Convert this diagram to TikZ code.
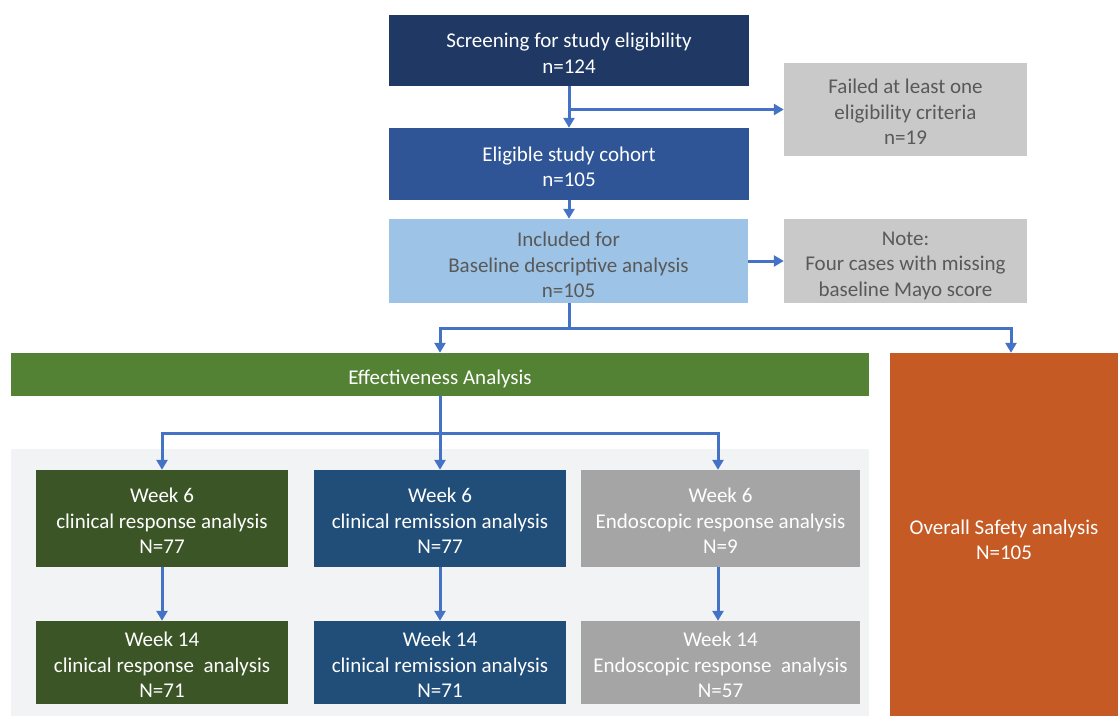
\documentclass[tikz,border=0pt]{standalone}
\usepackage{fontspec}
\setmainfont{Carlito}
\usetikzlibrary{arrows.meta}
\definecolor{cScreen}{HTML}{1F3864}
\definecolor{cElig}{HTML}{2F5597}
\definecolor{cIncl}{HTML}{9DC3E6}
\definecolor{cGrayBox}{HTML}{C9C9C9}
\definecolor{cGrayText}{HTML}{595959}
\definecolor{cEff}{HTML}{548235}
\definecolor{cSafe}{HTML}{C55A24}
\definecolor{cWGreen}{HTML}{3B5526}
\definecolor{cWBlue}{HTML}{214E78}
\definecolor{cWGray}{HTML}{A5A5A5}
\definecolor{cPanel}{HTML}{F2F3F5}
\definecolor{cArrow}{HTML}{4472C4}
\tikzset{
  box/.style={rectangle, inner sep=0pt, align=center, text depth=0pt, font=\fontsize{21}{25.5}\selectfont},
  darkbox/.style={box, text=white},
  lightbox/.style={box, text=cGrayText},
  lines1/.style={text height=19pt},
  lines2/.style={text height=45pt},
  lines3/.style={text height=70.5pt},
  arr/.style={draw=cArrow, line width=3pt, -{Triangle[length=10pt,width=11pt]}},
  conn/.style={draw=cArrow, line width=3pt},
}
\begin{document}
\begin{tikzpicture}[x=1pt,y=-1pt]
\useasboundingbox (0,0) rectangle (1118,716);
% background panel
\fill[cPanel] (11,449) rectangle (869,716);
% top chain
\node[darkbox, lines2, fill=cScreen, minimum width=360pt, minimum height=71pt] (screen) at (569,50.5) {Screening for study eligibility\\n=124};
\node[lightbox, lines3, fill=cGrayBox, minimum width=243pt, minimum height=93pt] (failed) at (905.5,109.5) {Failed at least one\\eligibility criteria\\n=19};
\node[darkbox, lines2, fill=cElig, minimum width=360pt, minimum height=72pt] (elig) at (569,164) {Eligible study cohort\\n=105};
\node[lightbox, lines3, text height=73pt, fill=cIncl, minimum width=359pt, minimum height=84pt] (incl) at (568.5,261) {Included for\\Baseline descriptive analysis\\n=105};
\node[lightbox, lines3, fill=cGrayBox, minimum width=243pt, minimum height=84pt] (note) at (905.5,261) {Note:\\Four cases with missing\\baseline Mayo score};
% effectiveness and safety
\node[darkbox, lines1, fill=cEff, minimum width=858pt, minimum height=43pt] (eff) at (440,374.5) {Effectiveness Analysis};
\node[darkbox, lines2, text height=50pt, fill=cSafe, minimum width=228pt, minimum height=363pt] (safe) at (1004,534.5) {Overall Safety analysis\\N=105};
% week 6
\node[darkbox, lines3, fill=cWGreen, minimum width=252pt, minimum height=97pt] (w6a) at (162,518.5) {Week 6\\clinical response analysis\\N=77};
\node[darkbox, lines3, fill=cWBlue, minimum width=252pt, minimum height=97pt] (w6b) at (440,518.5) {Week 6\\clinical remission analysis\\N=77};
\node[darkbox, lines3, fill=cWGray, minimum width=279pt, minimum height=97pt] (w6c) at (720.5,518.5) {Week 6\\Endoscopic response analysis\\N=9};
% week 14
\node[darkbox, lines3, fill=cWGreen, minimum width=252pt, minimum height=83pt] (w14a) at (162,662.5) {Week 14\\clinical response~ analysis\\N=71};
\node[darkbox, lines3, fill=cWBlue, minimum width=252pt, minimum height=83pt] (w14b) at (440,662.5) {Week 14\\clinical remission analysis\\N=71};
\node[darkbox, lines3, fill=cWGray, minimum width=279pt, minimum height=83pt] (w14c) at (720.5,662.5) {Week 14\\Endoscopic response~ analysis\\N=57};
% connectors
\coordinate (br) at (569,109.5);
\draw[arr] (screen.south) -- (elig.north);
\draw[arr] (br) -- (failed.west);
\draw[arr] (elig.south) -- (elig.south |- incl.north);
\draw[arr] (incl.east) -- (note.west);
\coordinate (split) at (569,328);
\draw[conn] (incl.south -| split) -- (split);
\draw[arr] (split) -| (eff.north);
\draw[arr] (split) -| ([xshift=7pt]safe.north);
\coordinate (split2) at (440,433);
\draw[arr] (eff.south) -- (w6b.north);
\draw[arr] (split2) -| (w6a.north);
\draw[arr] (split2) -| ([xshift=-2.5pt]w6c.north);
\draw[arr] (w6a) -- (w14a);
\draw[arr] (w6b) -- (w14b);
\draw[arr] ([xshift=-2.5pt]w6c.south) -- ([xshift=-2.5pt]w14c.north);
\end{tikzpicture}
\end{document}
